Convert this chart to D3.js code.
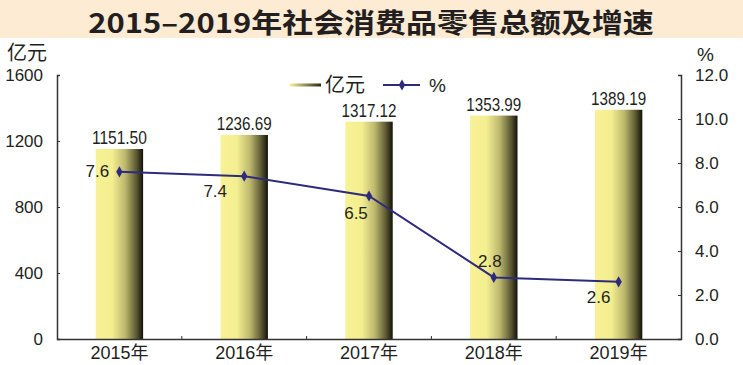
<!DOCTYPE html>
<html>
<head>
<meta charset="utf-8">
<script src="https://cdn.jsdelivr.net/npm/d3@7"></script>
<style>
  body { margin: 0; background: #fff; }
  svg text { font-family: "Liberation Sans", Arial, "Noto Sans CJK SC", sans-serif; fill: #231f20; }
</style>
</head>
<body>
<svg class="chart"></svg>
<script>
// chart data
var years = ["2015年", "2016年", "2017年", "2018年", "2019年"];
var sales = [1151.50, 1236.69, 1317.12, 1353.99, 1389.19]; // 亿元
var growth = [7.6, 7.4, 6.5, 2.8, 2.6]; // %
var leftTicks = [0, 400, 800, 1200, 1600];
var rightTicks = [0, 2, 4, 6, 8, 10, 12];

var width = 743, height = 365;
var margin = { left: 57, right: 62, top: 75, bottom: 26 };

var svg = d3.select("svg.chart").attr("width", width).attr("height", height);

// title band
svg.append("rect").attr("width", width).attr("height", 38).attr("fill", "#fdebd4");
var title = svg.append("text")
    .attr("text-anchor", "middle")
    .style("font-family", "'Noto Sans CJK SC', sans-serif")
    .style("font-size", "27px").style("font-weight", "bold")
    .text("2015–2019年社会消费品零售总额及增速");
var tw = title.node().getComputedTextLength(); // stretch sideways to the reference width
title.attr("transform", "translate(371,33) scale(" + (566 / tw) + ",1)");

var x = d3.scaleBand().domain(years).range([margin.left, width - margin.right]).paddingInner(0.62).paddingOuter(0.31);
var yL = d3.scaleLinear().domain([0, 1600]).range([height - margin.bottom, margin.top]);
var yR = d3.scaleLinear().domain([0, 12]).range([height - margin.bottom, margin.top]);

// gradient for bars
var defs = svg.append("defs");
var grad = defs.append("linearGradient").attr("id", "barGrad").attr("x1", "0").attr("x2", "1").attr("y1", "0").attr("y2", "0");
[[0, "#f8f296"], [0.35, "#f3ee8f"], [0.62, "#bdb86e"], [0.86, "#5b5832"], [1, "#12110a"]].forEach(function (s) {
    grad.append("stop").attr("offset", s[0]).attr("stop-color", s[1]);
});
var lgGrad = defs.append("linearGradient").attr("id", "legGrad").attr("x1", "0").attr("x2", "1");
lgGrad.append("stop").attr("offset", 0).attr("stop-color", "#f8f296");
lgGrad.append("stop").attr("offset", 1).attr("stop-color", "#2a2916");

// bars
svg.selectAll("rect.bar").data(sales).enter().append("rect")
    .attr("class", "bar")
    .attr("x", function (d, i) { return x(years[i]); })
    .attr("y", function (d) { return yL(d); })
    .attr("width", x.bandwidth())
    .attr("height", function (d) { return yL(0) - yL(d); })
    .attr("fill", "url(#barGrad)");

svg.selectAll("text.barval").data(sales).enter().append("text")
    .attr("x", function (d, i) { return x(years[i]) + x.bandwidth() / 2; })
    .attr("y", function (d) { return yL(d) - 5; })
    .attr("text-anchor", "middle")
    .attr("textLength", 55).attr("lengthAdjust", "spacingAndGlyphs")
    .style("font-size", "19px")
    .text(function (d) { return d.toFixed(2); });

// axes
var axisColor = "#333";
var gL = svg.append("g").attr("transform", "translate(" + margin.left + ",0)")
    .call(d3.axisLeft(yL).tickValues(leftTicks).tickSize(-3).tickPadding(14).tickFormat(d3.format("d")));
var gR = svg.append("g").attr("transform", "translate(" + (width - margin.right) + ",0)")
    .call(d3.axisRight(yR).tickValues(rightTicks).tickSize(-3).tickPadding(14).tickFormat(d3.format(".1f")));
var gB = svg.append("g").attr("transform", "translate(0," + (height - margin.bottom) + ")")
    .call(d3.axisBottom(x).tickSize(0).tickPadding(7));

[gL, gR, gB].forEach(function (g) {
    g.select(".domain").attr("stroke", axisColor).attr("stroke-width", 1.5);
    g.selectAll(".tick line").attr("stroke", axisColor);
    g.selectAll("text").style("font-size", "17px").style("font-family", "'Liberation Sans', 'Noto Sans CJK SC', sans-serif").attr("fill", "#231f20");
});
gB.selectAll("text").style("font-size", "18px");

// tiny ticks between categories on bottom axis
var between = years.slice(1).map(function (d) { return x(d) - x.step() * x.paddingInner() / 2; });
gB.selectAll("line.sep").data(between).enter().append("line")
    .attr("x1", function (d) { return d; }).attr("x2", function (d) { return d; })
    .attr("y1", 0).attr("y2", -3).attr("stroke", axisColor);

// axis unit labels
svg.append("text").attr("x", 7).attr("y", 60).style("font-size", "20px").text("亿元");
svg.append("text").attr("x", 697).attr("y", 61).style("font-size", "19px").text("%");

// growth line
var lineColor = "#2f2b7c";
var cx = function (i) { return x(years[i]) + x.bandwidth() / 2; };
svg.append("path").datum(growth)
    .attr("fill", "none").attr("stroke", lineColor).attr("stroke-width", 2)
    .attr("d", d3.line().x(function (d, i) { return cx(i); }).y(function (d) { return yR(d); }));
svg.selectAll("path.mark").data(growth).enter().append("path")
    .attr("class", "mark")
    .attr("transform", function (d, i) { return "translate(" + cx(i) + "," + yR(d) + ")"; })
    .attr("d", d3.symbol().type(d3.symbolDiamond).size(36))
    .attr("fill", lineColor);

var labelOffsets = [[-22, 5], [-29, 21], [-13, 23], [-4, -10], [-20, 21]];
svg.selectAll("text.gval").data(growth).enter().append("text")
    .attr("x", function (d, i) { return cx(i) + labelOffsets[i][0]; })
    .attr("y", function (d, i) { return yR(d) + labelOffsets[i][1]; })
    .attr("text-anchor", "middle")
    .style("font-size", "17px")
    .text(function (d) { return d.toFixed(1); });

// legend
var lg = svg.append("g");
lg.append("rect").attr("x", 290).attr("y", 83.5).attr("width", 31).attr("height", 3).attr("fill", "url(#legGrad)");
lg.append("text").attr("x", 325).attr("y", 92).style("font-size", "20px").text("亿元");
lg.append("line").attr("x1", 383).attr("x2", 420).attr("y1", 85).attr("y2", 85).attr("stroke", lineColor).attr("stroke-width", 2);
lg.append("path").attr("transform", "translate(402,85)").attr("d", d3.symbol().type(d3.symbolDiamond).size(36)).attr("fill", lineColor);
lg.append("text").attr("x", 429).attr("y", 92).style("font-size", "19px").text("%");
</script>
</body>
</html>
